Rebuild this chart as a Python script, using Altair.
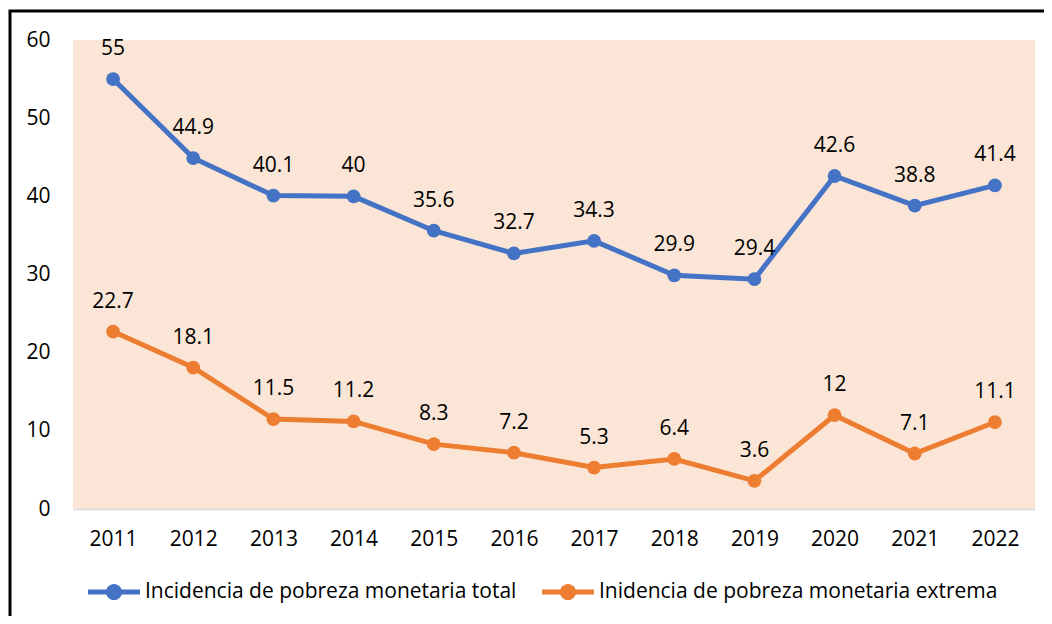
import altair as alt
import pandas as pd

years = ["2011", "2012", "2013", "2014", "2015", "2016", "2017", "2018", "2019", "2020", "2021", "2022"]
total = [55, 44.9, 40.1, 40, 35.6, 32.7, 34.3, 29.9, 29.4, 42.6, 38.8, 41.4]
extreme = [22.7, 18.1, 11.5, 11.2, 8.3, 7.2, 5.3, 6.4, 3.6, 12, 7.1, 11.1]
series_names = ["Incidencia de pobreza monetaria total", "Inidencia de pobreza monetaria extrema"]
series_colors = ["#4472C4", "#ED7D31"]

rows = []
for y, v in zip(years, total):
    rows.append({"year": y, "value": v, "serie": series_names[0]})
for y, v in zip(years, extreme):
    rows.append({"year": y, "value": v, "serie": series_names[1]})
df = pd.DataFrame(rows)

FONT = "Open Sans"
FS = 21
W, H = 962, 469

x_enc = alt.X("year:N", sort=years, title=None,
              scale=alt.Scale(paddingInner=0, paddingOuter=0.5),
              axis=alt.Axis(labelAngle=0, ticks=False, domainColor="#D9D9D9", domainWidth=1.5,
                            labelPadding=19, labelFontSize=FS, labelColor="#000", grid=False))
y_enc = alt.Y("value:Q", title=None, scale=alt.Scale(domain=[0, 60], nice=False),
              axis=alt.Axis(values=[0, 10, 20, 30, 40, 50, 60], ticks=False, domain=False, grid=False,
                            labelPadding=23, labelFontSize=FS, labelColor="#000"))
color_enc = alt.Color("serie:N", title=None,
                      scale=alt.Scale(domain=series_names, range=series_colors),
                      legend=alt.Legend(orient="none", legendX=15, legendY=526, direction="horizontal",
                                        symbolType="M-1,-0.1 H1 V0.1 H-1 Z M0.31,0 A0.31,0.31 0 1 1 -0.31,0 A0.31,0.31 0 1 1 0.31,0 Z",
                                        symbolSize=2704, symbolStrokeWidth=0, symbolOpacity=1,
                                        labelFontSize=FS, labelColor="#000", labelOffset=5,
                                        columnPadding=25, labelLimit=500))

base = alt.Chart(df)
lines = base.mark_line(strokeWidth=5).encode(x=x_enc, y=y_enc, color=color_enc)
points = base.mark_circle(size=190, opacity=1).encode(x=x_enc, y=y_enc,
                                                      color=alt.Color("serie:N", scale=alt.Scale(domain=series_names, range=series_colors), legend=None))
labels = base.mark_text(dy=-30, fontSize=FS, color="#000", font=FONT).encode(
    x=x_enc, y=y_enc, text=alt.Text("value:Q", format=".1~f"))

border = alt.Chart(pd.DataFrame({"a": [0]})).mark_rect(fill="transparent", stroke="#000", strokeWidth=3).encode(
    x=alt.value(-63), x2=alt.value(1100), y=alt.value(-29), y2=alt.value(700))

chart = alt.layer(lines, points, labels, border).properties(
    width=W, height=H,
    autosize=alt.AutoSizeParams(type="none"),
    padding={"left": 65, "top": 32, "right": 9, "bottom": 107},
).configure(font=FONT).configure_view(fill="#FBE5D6", stroke=None).configure_axis(labelFont=FONT).configure_legend(labelFont=FONT)

chart.save("out.html", embed_options={"renderer": "svg", "actions": False})
